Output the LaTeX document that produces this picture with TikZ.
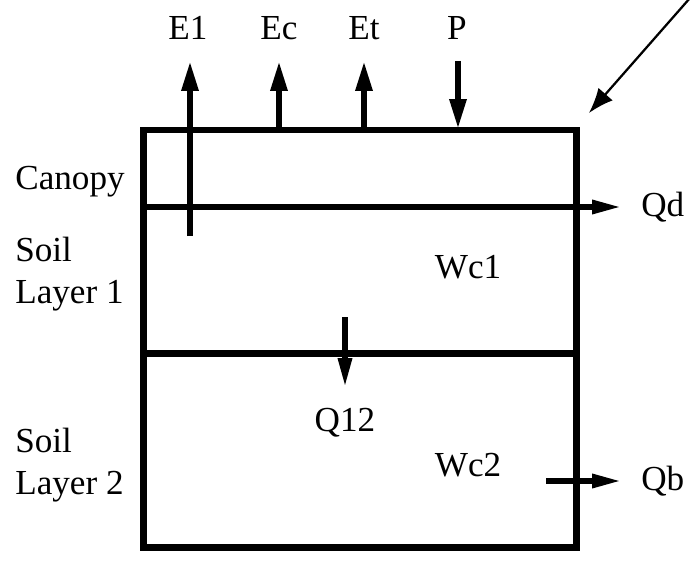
\documentclass[tikz,border=0pt]{standalone}
\usepackage{fontspec}
\setmainfont{Liberation Serif}
\usetikzlibrary{arrows.meta}

\begin{document}
\begin{tikzpicture}[x=0.02cm, y=-0.02cm, font=\fontsize{20}{24}\selectfont,
  wall/.style={line width=0.14cm},
  flux/.style={line width=0.12cm, -{Triangle[length=0.6cm, width=0.32cm]}},
  flowsm/.style={line width=0.12cm, -{Triangle[length=0.6cm, width=0.26cm]}},
  lbl/.style={inner sep=0pt},
  side/.style={inner sep=0pt, anchor=west, align=left}]
  \useasboundingbox (0,0) rectangle (700,581);
  % the column
  \coordinate (tl) at (143,130);
  \coordinate (br) at (576,547);
  \draw[wall] (tl) rectangle (br);
  \coordinate (c1) at (143,207);
  \coordinate (c2) at (576,207);
  \coordinate (s1) at (143,353);
  \coordinate (s2) at (576,353);
  \draw[wall] (c1) -- (c2);
  \draw[wall] (s1) -- (s2);
  % layer names
  \node[side] (canopy) at (15,182) {Canopy};
  \node[side] (soil1) at (15,274) {Soil\\Layer 1};
  \node[side] (soil2) at (15,465) {Soil\\Layer 2};
  \node[lbl] (wc1) at (468,267) {Wc1};
  \node[lbl] (wc2) at (468,465) {Wc2};
  % vertical fluxes
  \node[lbl] (e1) at (188,28) {E1};
  \node[lbl] (ec) at (279,28) {Ec};
  \node[lbl] (et) at (364,28) {Et};
  \node[lbl] (p) at (457,28) {P};
  \coordinate (e1a) at (190,236);
  \coordinate (e1b) at (190,61);
  \coordinate (eca) at (279,130);
  \coordinate (ecb) at (279,61);
  \coordinate (eta) at (364,130);
  \coordinate (etb) at (364,61);
  \coordinate (pa) at (458,61);
  \coordinate (pb) at (458,129);
  \draw[flux] (e1a) -- (e1b);
  \draw[flux] (eca) -- (ecb);
  \draw[flux] (eta) -- (etb);
  \draw[flux] (pa) -- (pb);
  \coordinate (q12a) at (345,317);
  \coordinate (q12b) at (345,388);
  \draw[flowsm] (q12a) -- (q12b);
  \node[lbl] (q12) at (345,423) {Q12};
  % lateral fluxes
  \coordinate (qda) at (576,207);
  \coordinate (qdb) at (622,207);
  \draw[flowsm] (qda) -- (qdb);
  \node[lbl, anchor=west] (qd) at (641,207) {Qd};
  \coordinate (qba) at (546,481);
  \coordinate (qbb) at (622,481);
  \draw[flowsm] (qba) -- (qbb);
  \node[lbl, anchor=west] (qb) at (641,481) {Qb};
  % incoming arrow
  \coordinate (ina) at (690,-2);
  \coordinate (inb) at (589,113);
  \draw[line width=0.045cm, -{Latex[length=0.5cm, width=0.38cm]}] (ina) -- (inb);
\end{tikzpicture}
\end{document}
